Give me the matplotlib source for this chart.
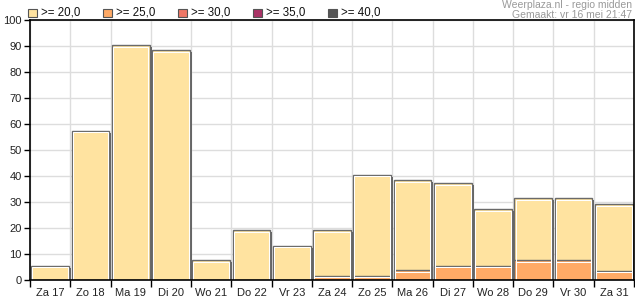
import matplotlib
matplotlib.use("Agg")
import matplotlib.pyplot as plt
from matplotlib.patches import Rectangle
import numpy as np

plt.rcParams['font.family'] = ['Liberation Sans', 'DejaVu Sans']

days = ["Za 17", "Zo 18", "Ma 19", "Di 20", "Wo 21", "Do 22", "Vr 23", "Za 24",
        "Zo 25", "Ma 26", "Di 27", "Wo 28", "Do 29", "Vr 30", "Za 31"]
ge20 = [5.5, 57.5, 90.3, 88.3, 7.6, 19.1, 13.2, 19.1, 40.4, 38.4, 37.2, 27.2, 31.4, 31.4, 29.1]
ge25 = [0, 0, 0, 0, 0, 0, 0, 1.7, 1.7, 3.7, 5.5, 5.5, 7.6, 7.6, 3.6]
legend_labels = [">= 20,0", ">= 25,0", ">= 30,0", ">= 35,0", ">= 40,0"]
legend_colors = ["#FFE3A0", "#FFAA66", "#EE7766", "#AA3366", "#555555"]

W, H = 635, 300
fig = plt.figure(figsize=(W/100, H/100), dpi=100)
ax = fig.add_axes([30/W, 20/H, 604/W, 260/H])
n = len(days)
x = np.arange(n)
ax.set_xlim(-0.5, n - 0.5)
ax.set_ylim(0, 100)

slot_px = 604 / n
px_x = 1 / slot_px
px_y = 100 / 260
width = 1 - 2.5 * px_x

def draw_series(vals, color):
    vals = np.asarray(vals, dtype=float)
    mask = vals > 0
    # shadow
    ax.bar(x[mask] + 2 * px_x, vals[mask], width=width, bottom=-2 * px_y,
           color="#666666", linewidth=0, zorder=3)
    # main
    ax.bar(x[mask], vals[mask], width=width, color=color,
           edgecolor="#6a6a6a", linewidth=1.0, zorder=4)
    # inner highlight
    ax.bar(x[mask], np.maximum(vals[mask] - 1.5 * px_y, 0), width=width - 2.2 * px_x,
           bottom=0, fill=False, edgecolor="white", linewidth=0.75, zorder=5)

draw_series(ge20, legend_colors[0])
draw_series(ge25, legend_colors[1])

ax.set_yticks(np.arange(0, 101, 10))
ax.set_xticks(x)
ax.set_xticklabels(days)
ax.set_xticks(np.arange(-0.5, n, 1), minor=True)
ax.tick_params(axis='x', which='major', length=0, labelsize=8, pad=6, colors='#222222')
ax.tick_params(axis='x', which='minor', length=5, width=1, color='black')
ax.tick_params(axis='y', length=4, width=1, labelsize=8, pad=2, colors='#222222')
ax.tick_params(axis='y', color='black')
ax.grid(axis='y', which='major', color='#dddddd', linewidth=1, zorder=0)
ax.grid(axis='x', which='minor', color='#dddddd', linewidth=1, zorder=0)
ax.set_axisbelow(True)
for s in ax.spines.values():
    s.set_color('black')
    s.set_linewidth(1.2)
    s.set_zorder(6)

# legend
for i, (lab, col) in enumerate(zip(legend_labels, legend_colors)):
    lx = 28 + 75 * i
    fig.patches.append(Rectangle((lx / W, (H - 17) / H), 8.5 / W, 8.5 / H,
                                 transform=fig.transFigure, facecolor=col,
                                 edgecolor="#555555", linewidth=0.8))
    fig.text((lx + 13) / W, (H - 12.5) / H, lab, fontsize=8.3, va='center',
             ha='left', color='#111111')

fig.text(632 / W, (H - 5) / H, "Weerplaza.nl - regio midden", fontsize=7.5,
         ha='right', va='center', color='#999999')
fig.text(632 / W, (H - 15.5) / H, "Gemaakt: vr 16 mei 21:47", fontsize=7.5,
         ha='right', va='center', color='#999999')

fig.savefig("out.png", dpi=100)
